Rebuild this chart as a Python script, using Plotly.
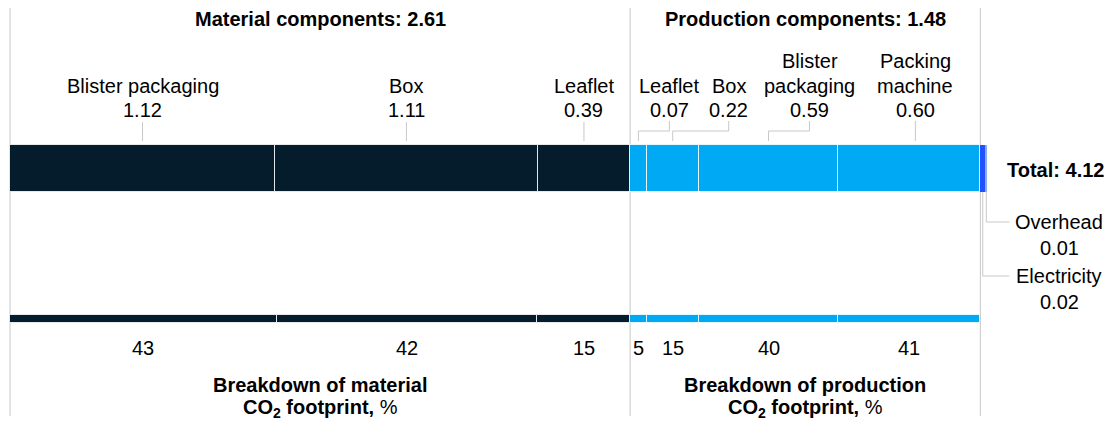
import plotly.graph_objects as go

# ---------------- data ----------------
material_names = ["Blister packaging", "Box", "Leaflet"]
material_values = [1.12, 1.11, 0.39]
material_pct = [43, 42, 15]
material_total = 2.61

production_names = ["Leaflet", "Box", "Blister<br>packaging", "Packing<br>machine"]
production_values = [0.07, 0.22, 0.59, 0.60]
production_pct = [5, 15, 40, 41]
production_total = 1.48

extra_names = ["Electricity", "Overhead"]
extra_values = [0.02, 0.01]
grand_total = 4.12

# ---------------- styles ----------------
NAVY = "#051C2C"
CYAN = "#00A9F4"
EXTRA_COLORS = ["#2251FF", "#8FA9FF"]
GRID = "#C8C8C8"
FONT = "Liberation Sans"
FS = 20
LH = 24.5

W, H = 1113, 421
LEFT_PX = 10
KPX = 968 / (material_total + production_total)  # px per unit
x0 = -LEFT_PX / KPX
x1 = (W - LEFT_PX) / KPX

TOP_Y, TOP_H = 168.5, 47
BOT_Y, BOT_H = 319, 8

fig = go.Figure()

def add_seg(base, width, y, h, color, line_col="rgba(255,255,255,0.8)", lw=1):
    fig.add_trace(go.Bar(
        x=[width], base=[base], y=[y], width=[h], orientation="h",
        marker=dict(color=color, line=dict(color=line_col, width=lw)),
        showlegend=False, hoverinfo="skip"))

# top bar
cum = 0.0
mat_bounds = []
for v in material_values:
    add_seg(cum, v, TOP_Y, TOP_H, NAVY)
    mat_bounds.append((cum, cum + v))
    cum += v
prod_start = cum
prod_bounds = []
for v in production_values:
    add_seg(cum, v, TOP_Y, TOP_H, CYAN)
    prod_bounds.append((cum, cum + v))
    cum += v
prod_end = cum
extra_bounds = []
for v, c in zip(extra_values, EXTRA_COLORS):
    add_seg(cum, v, TOP_Y, TOP_H, c, lw=0)
    extra_bounds.append((cum, cum + v))
    cum += v

# bottom bar: percentage breakdown scaled to group totals
mat_sum = sum(material_values)
prod_sum = sum(production_values)
cum = 0.0
mat_bot = []
for p in material_pct:
    w = p / sum(material_pct) * mat_sum
    add_seg(cum, w, BOT_Y, BOT_H, NAVY)
    mat_bot.append(cum + w / 2)
    cum += w
prod_bot = []
for p in production_pct:
    w = p / sum(production_pct) * prod_sum
    add_seg(cum, w, BOT_Y, BOT_H, CYAN)
    prod_bot.append(cum + w / 2)
    cum += w

shapes = []
annotations = []

def px(dx):
    return dx / KPX

# vertical group lines
for xv in [0.0, prod_start, prod_end]:
    shapes.append(dict(type="line", xref="x", yref="y", x0=xv, x1=xv, y0=8, y1=416,
                       line=dict(color=GRID, width=1), layer="below"))

def ann(x, y_last, text, size=FS, lh=LH, first=False):
    """Place multi-line text; y_last is the centre of the last line
    (or of the first line if first=True)."""
    lines = text.split("<br>")
    n = len(lines)
    for i, ln in enumerate(lines):
        if first:
            yy = y_last + i * lh
        else:
            yy = y_last - (n - 1 - i) * lh
        annotations.append(dict(x=x, y=yy, xref="x", yref="y", text=ln, showarrow=False,
                                xanchor="center", yanchor="middle",
                                font=dict(family=FONT, size=size, color="#000")))

# headers
ann(mat_sum / 2, 19, f"<b>Material components: {material_total:.2f}</b>")
ann(prod_start + prod_sum / 2, 19, f"<b>Production components: {production_total:.2f}</b>")

# material labels
for (a, b), n, v in zip(mat_bounds, material_names, material_values):
    c = (a + b) / 2
    ann(c, 110, f"{n}<br>{v:.2f}")
    shapes.append(dict(type="line", xref="x", yref="y", x0=c, x1=c, y0=122, y1=141,
                       line=dict(color=GRID, width=1)))

# production labels (label offsets in px)
label_offsets = [31, 56, 41, 6]
for (a, b), n, v, off in zip(prod_bounds, production_names, production_values, label_offsets):
    c = (a + b) / 2
    lx = c + px(off)
    ann(lx, 110, f"{n}<br>{v:.2f}")
    if abs(off) > 10:
        path = f"M {lx},121 V 131 H {c} V 141"
        shapes.append(dict(type="path", xref="x", yref="y", path=path,
                           line=dict(color=GRID, width=1)))
    else:
        shapes.append(dict(type="line", xref="x", yref="y", x0=lx, x1=lx, y0=121, y1=141,
                           line=dict(color=GRID, width=1)))

# total
ann(prod_end + px(75), TOP_Y + 1.5, f"<b>Total: {grand_total:.2f}</b>")

# extra labels (electricity lower, overhead upper)
extra_y = [276, 222]
for (a, b), n, v, yy in zip(extra_bounds, extra_names, extra_values, extra_y):
    c = (a + b) / 2
    path = f"M {c},{TOP_Y + TOP_H/2} V {yy} H {prod_end + px(29)}"
    shapes.append(dict(type="path", xref="x", yref="y", path=path,
                       line=dict(color=GRID, width=1)))
    ann(prod_end + px(79), yy, f"{n}<br>{v:.2f}", lh=25.5, first=True)

# bottom pct labels
for c, p in zip(mat_bot + prod_bot, material_pct + production_pct):
    ann(c, 348, str(p))

# bottom titles
ann(mat_sum / 2, 385, "<b>Breakdown of material</b><br><b>CO<sub>2</sub> footprint,</b> %", lh=23.5, first=True)
ann(prod_start + prod_sum / 2, 385, "<b>Breakdown of production</b><br><b>CO<sub>2</sub> footprint,</b> %", lh=23.5, first=True)

fig.update_layout(
    width=W, height=H, margin=dict(l=0, r=0, t=0, b=0),
    paper_bgcolor="white", plot_bgcolor="white",
    barmode="overlay", bargap=0,
    xaxis=dict(range=[x0, x1], visible=False, fixedrange=True),
    yaxis=dict(range=[H, 0], visible=False, fixedrange=True),
    shapes=shapes, annotations=annotations,
    font=dict(family=FONT),
)

fig.write_html("out.html", config={"displayModeBar": False},
               post_script="document.body.style.margin='0';document.body.style.overflow='hidden';")
